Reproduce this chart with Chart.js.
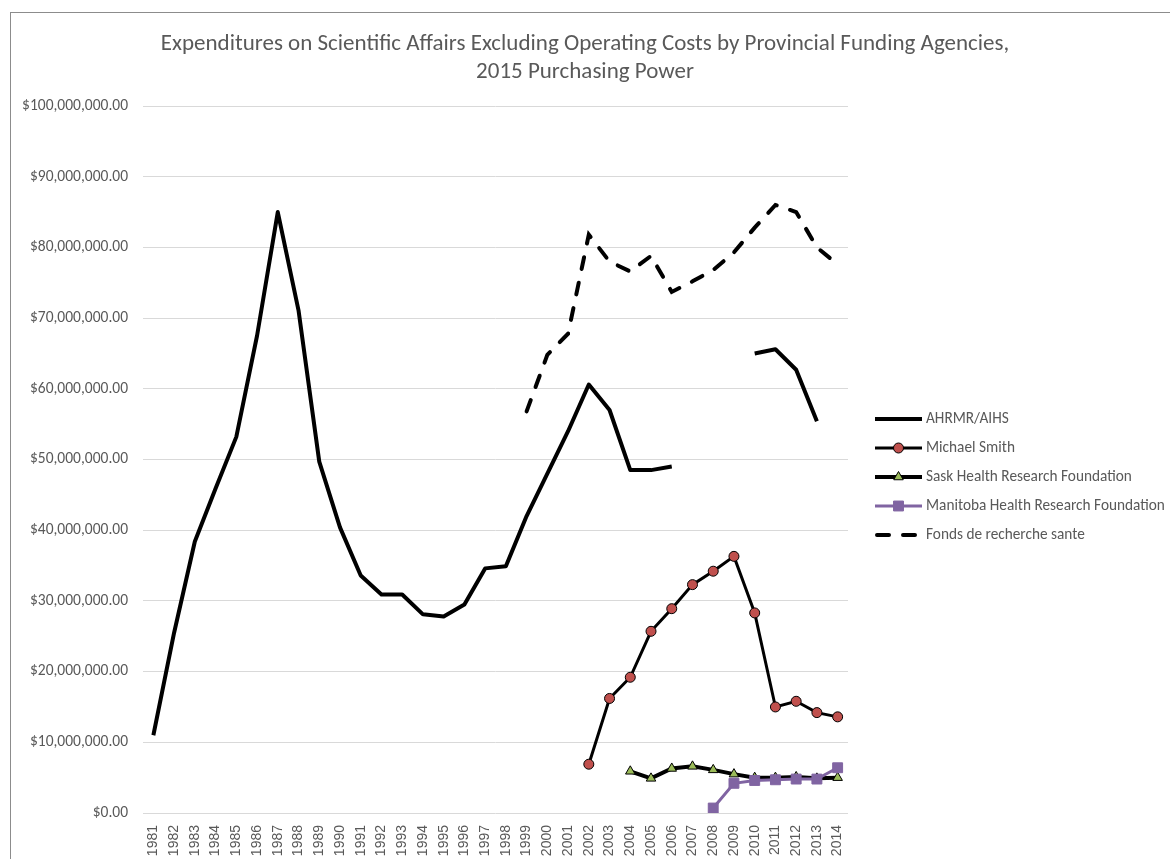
<!DOCTYPE html>
<html>
<head>
<meta charset="utf-8">
<script src="https://cdn.jsdelivr.net/npm/chart.js@4"></script>
<style>
  html, body { margin: 0; padding: 0; background: #fff; overflow: hidden; }
  #wrap { position: relative; width: 1170px; height: 859px; }
  #frame { position: absolute; left: 10px; top: 12px; width: 1180px; height: 900px; border: 1px solid #8c8c8c; box-sizing: border-box; }
  canvas { position: absolute; left: 0; top: 0; }
</style>
</head>
<body>
<div id="wrap">
  <div id="frame"></div>
  <canvas id="chart" width="1170" height="859"></canvas>
</div>
<script>
// years on the x axis
const years = [];
for (let y = 1981; y <= 2014; y++) years.push(String(y));

// values (millions of dollars, 2015 purchasing power)
const ahrmr = [11.0, 25.5, 38.4, 45.9, 53.2, 67.5, 85.0, 71.1, 49.7, 40.4,
  33.6, 30.9, 30.9, 28.1, 27.8, 29.5, 34.6, 34.9, 42.0, 48.0,
  54.0, 60.6, 57.0, 48.5, 48.5, 49.0, null, null, null, 65.0,
  65.6, 62.7, 55.4, null];
const michaelSmith = [null, null, null, null, null, null, null, null, null, null,
  null, null, null, null, null, null, null, null, null, null,
  null, 6.9, 16.2, 19.2, 25.7, 28.9, 32.3, 34.2, 36.3, 28.3,
  15.0, 15.8, 14.2, 13.6];
const sask = [null, null, null, null, null, null, null, null, null, null,
  null, null, null, null, null, null, null, null, null, null,
  null, null, null, 5.9, 4.9, 6.3, 6.6, 6.1, 5.5, 5.0,
  5.0, 5.1, 4.9, 5.0];
const manitoba = [null, null, null, null, null, null, null, null, null, null,
  null, null, null, null, null, null, null, null, null, null,
  null, null, null, null, null, null, null, 0.7, 4.2, 4.6,
  4.7, 4.8, 4.8, 6.4];
const fonds = [null, null, null, null, null, null, null, null, null, null,
  null, null, null, null, null, null, null, null, 56.8, 64.8,
  67.8, 81.8, 78.0, 76.6, 78.8, 73.7, 75.2, 76.8, 79.3, 82.8,
  86.0, 85.0, 80.0, 77.6];

const seriesNames = ["AHRMR/AIHS", "Michael Smith", "Sask Health Research Foundation",
  "Manitoba Health Research Foundation", "Fonds de recherche sante"];
const titleLines = ["Expenditures on Scientific Affairs Excluding Operating Costs by Provincial Funding Agencies,",
  "2015 Purchasing Power"];

const toDollars = arr => arr.map(v => v === null ? null : v * 1000000);

const textColor = "#595959";
const fontFam = "Carlito, Lato, 'Liberation Sans', sans-serif";

// title centred on the whole picture + Excel style legend on the right
const decorations = {
  id: "decorations",
  afterDraw(chart) {
    const ctx = chart.ctx;
    ctx.save();
    ctx.fillStyle = textColor;
    ctx.font = "23px " + fontFam;
    ctx.textAlign = "center";
    ctx.textBaseline = "middle";
    ctx.fillText(titleLines[0], 585, 44);
    ctx.fillText(titleLines[1], 585, 72);
    ctx.restore();

    const x0 = 875, x1 = 922, top = 419, step = 29;
    chart.data.datasets.forEach((ds, i) => {
      const y = top + i * step;
      ctx.save();
      ctx.strokeStyle = ds.borderColor;
      ctx.lineWidth = ds.borderWidth;
      ctx.lineCap = ds.borderCapStyle || "butt";
      if (ds.borderDash) ctx.setLineDash(ds.borderDash);
      ctx.beginPath();
      ctx.moveTo(x0 + (ds.borderDash ? 2 : 0), y);
      ctx.lineTo(x1 - (ds.borderDash ? 2 : 0), y);
      ctx.stroke();
      ctx.restore();
      ctx.save();
      if (ds.pointRadius > 0) {
        ctx.fillStyle = ds.pointBackgroundColor;
        ctx.strokeStyle = ds.pointBorderColor;
        ctx.lineWidth = ds.pointBorderWidth;
        const opts = { pointStyle: ds.pointStyle, rotation: 0, radius: ds.pointRadius, borderWidth: ds.pointBorderWidth };
        Chart.helpers.drawPoint(ctx, opts, (x0 + x1) / 2, y);
      }
      ctx.fillStyle = textColor;
      ctx.font = "15.3px " + fontFam;
      ctx.textBaseline = "middle";
      ctx.textAlign = "left";
      ctx.fillText(ds.label, x1 + 4, y);
      ctx.restore();
    });
  }
};

new Chart(document.getElementById("chart"), {
  type: "line",
  data: {
    labels: years,
    datasets: [
      {
        label: seriesNames[0],
        data: toDollars(ahrmr),
        borderColor: "#000",
        borderWidth: 4,
        pointRadius: 0,
        borderJoinStyle: "round",
        order: 5
      },
      {
        label: seriesNames[1],
        data: toDollars(michaelSmith),
        borderColor: "#000",
        borderWidth: 3,
        pointStyle: "circle",
        pointRadius: 5,
        pointBackgroundColor: "#c0504d",
        pointBorderColor: "#000",
        pointBorderWidth: 1,
        order: 4
      },
      {
        label: seriesNames[2],
        data: toDollars(sask),
        borderColor: "#000",
        borderWidth: 4,
        pointStyle: "triangle",
        pointRadius: 5.5,
        pointBackgroundColor: "#9bbb59",
        pointBorderColor: "#000",
        pointBorderWidth: 1,
        order: 3
      },
      {
        label: seriesNames[3],
        data: toDollars(manitoba),
        borderColor: "#8064a2",
        borderWidth: 3,
        pointStyle: "rect",
        pointRadius: 7,
        pointBackgroundColor: "#8064a2",
        pointBorderColor: "#8064a2",
        pointBorderWidth: 1,
        order: 2
      },
      {
        label: seriesNames[4],
        data: toDollars(fonds),
        borderColor: "#000",
        borderWidth: 4,
        borderDash: [12, 14],
        borderCapStyle: "round",
        pointRadius: 0,
        order: 1
      }
    ]
  },
  options: {
    responsive: false,
    animation: false,
    spanGaps: false,
    layout: { padding: { left: 0, right: 322, top: 106, bottom: 0 } },
    plugins: {
      legend: { display: false },
      tooltip: { enabled: false },
      title: { display: false }
    },
    scales: {
      x: {
        offset: true,
        grid: { display: false },
        border: { display: false },
        ticks: {
          color: textColor,
          font: { family: "'Liberation Sans', Arial, sans-serif", size: 14 },
          minRotation: 90,
          maxRotation: 90,
          autoSkip: false,
          padding: 4
        },
        afterFit(scale) { scale.height = 46; }
      },
      y: {
        min: 0,
        max: 100000000,
        grid: { color: "#d9d9d9", drawTicks: false },
        border: { display: false },
        ticks: {
          stepSize: 10000000,
          color: textColor,
          padding: 15,
          font: { family: fontFam, size: 15.5 },
          callback: v => "$" + Number(v).toLocaleString("en-US", { minimumFractionDigits: 2, maximumFractionDigits: 2 })
        },
        afterFit(scale) { scale.width = 143; }
      }
    }
  },
  plugins: [decorations]
});
</script>
</body>
</html>
